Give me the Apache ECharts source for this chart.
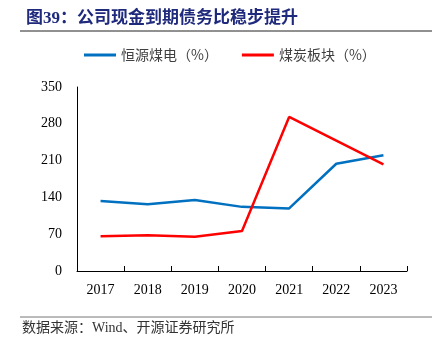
<!DOCTYPE html>
<html>
<head>
<meta charset="utf-8">
<script src="https://cdn.jsdelivr.net/npm/echarts@6/dist/echarts.min.js"></script>
<style>
  html, body { margin: 0; padding: 0; background: #fff; }
  #main { width: 439px; height: 352px; }
</style>
</head>
<body>
<div id="main"></div>
<script>
var years = ['2017', '2018', '2019', '2020', '2021', '2022', '2023'];
var hengyuan = [133, 127, 135, 122, 119, 204, 220];
var meitan = [66, 68, 65, 76, 293, 248, 203];
var seriesNames = ['恒源煤电（%）', '煤炭板块（%）'];

var chartDom = document.getElementById('main');
var myChart = echarts.init(chartDom);
var option;
option = {
  animation: false,
  color: ['#0070C0', '#FF0000'],
  title: {
    text: '图39：公司现金到期债务比稳步提升',
    left: 21,
    top: 5,
    textStyle: {
      fontFamily: '"Liberation Serif", "Noto Sans CJK SC"',
      fontSize: 17,
      fontWeight: 'bold',
      color: '#1F2A7C'
    }
  },
  legend: {
    top: 48,
    left: 84,
    padding: 0,
    icon: 'rect',
    itemWidth: 32,
    itemHeight: 3,
    itemGap: 24,
    textStyle: {
      fontFamily: '"Noto Sans CJK SC"',
      fontSize: 14,
      color: '#404040'
    },
    data: seriesNames
  },
  grid: {
    left: 77,
    right: 32,
    top: 87,
    bottom: 81
  },
  xAxis: {
    type: 'category',
    data: years,
    boundaryGap: true,
    axisLine: { lineStyle: { color: '#000', width: 1 } },
    axisTick: { show: true, inside: true, length: 5, lineStyle: { color: '#000' } },
    axisLabel: {
      margin: 12,
      fontFamily: '"Liberation Serif"',
      fontSize: 14,
      color: '#000'
    }
  },
  yAxis: {
    type: 'value',
    min: 0,
    max: 350,
    interval: 70,
    axisLine: { show: true, lineStyle: { color: '#000', width: 1 } },
    axisTick: { show: false },
    splitLine: { show: false },
    axisLabel: {
      margin: 15,
      fontFamily: '"Liberation Serif"',
      fontSize: 14,
      color: '#000'
    }
  },
  graphic: [
    {
      type: 'line',
      shape: { x1: 20, y1: 31, x2: 432, y2: 31 },
      style: { stroke: '#222', lineWidth: 1 }
    },
    {
      type: 'line',
      shape: { x1: 20, y1: 317, x2: 432, y2: 317 },
      style: { stroke: '#777', lineWidth: 1 }
    },
    {
      type: 'text',
      left: 22,
      top: 321,
      style: {
        text: '数据来源：Wind、开源证券研究所',
        font: '14px "Liberation Serif", "Noto Sans CJK SC"',
        fill: '#333'
      }
    }
  ],
  series: [
    {
      name: seriesNames[0],
      type: 'line',
      data: hengyuan,
      symbol: 'none',
      lineStyle: { width: 2.5 }
    },
    {
      name: seriesNames[1],
      type: 'line',
      data: meitan,
      symbol: 'none',
      lineStyle: { width: 2.5 }
    }
  ]
};
option && myChart.setOption(option);
</script>
</body>
</html>
